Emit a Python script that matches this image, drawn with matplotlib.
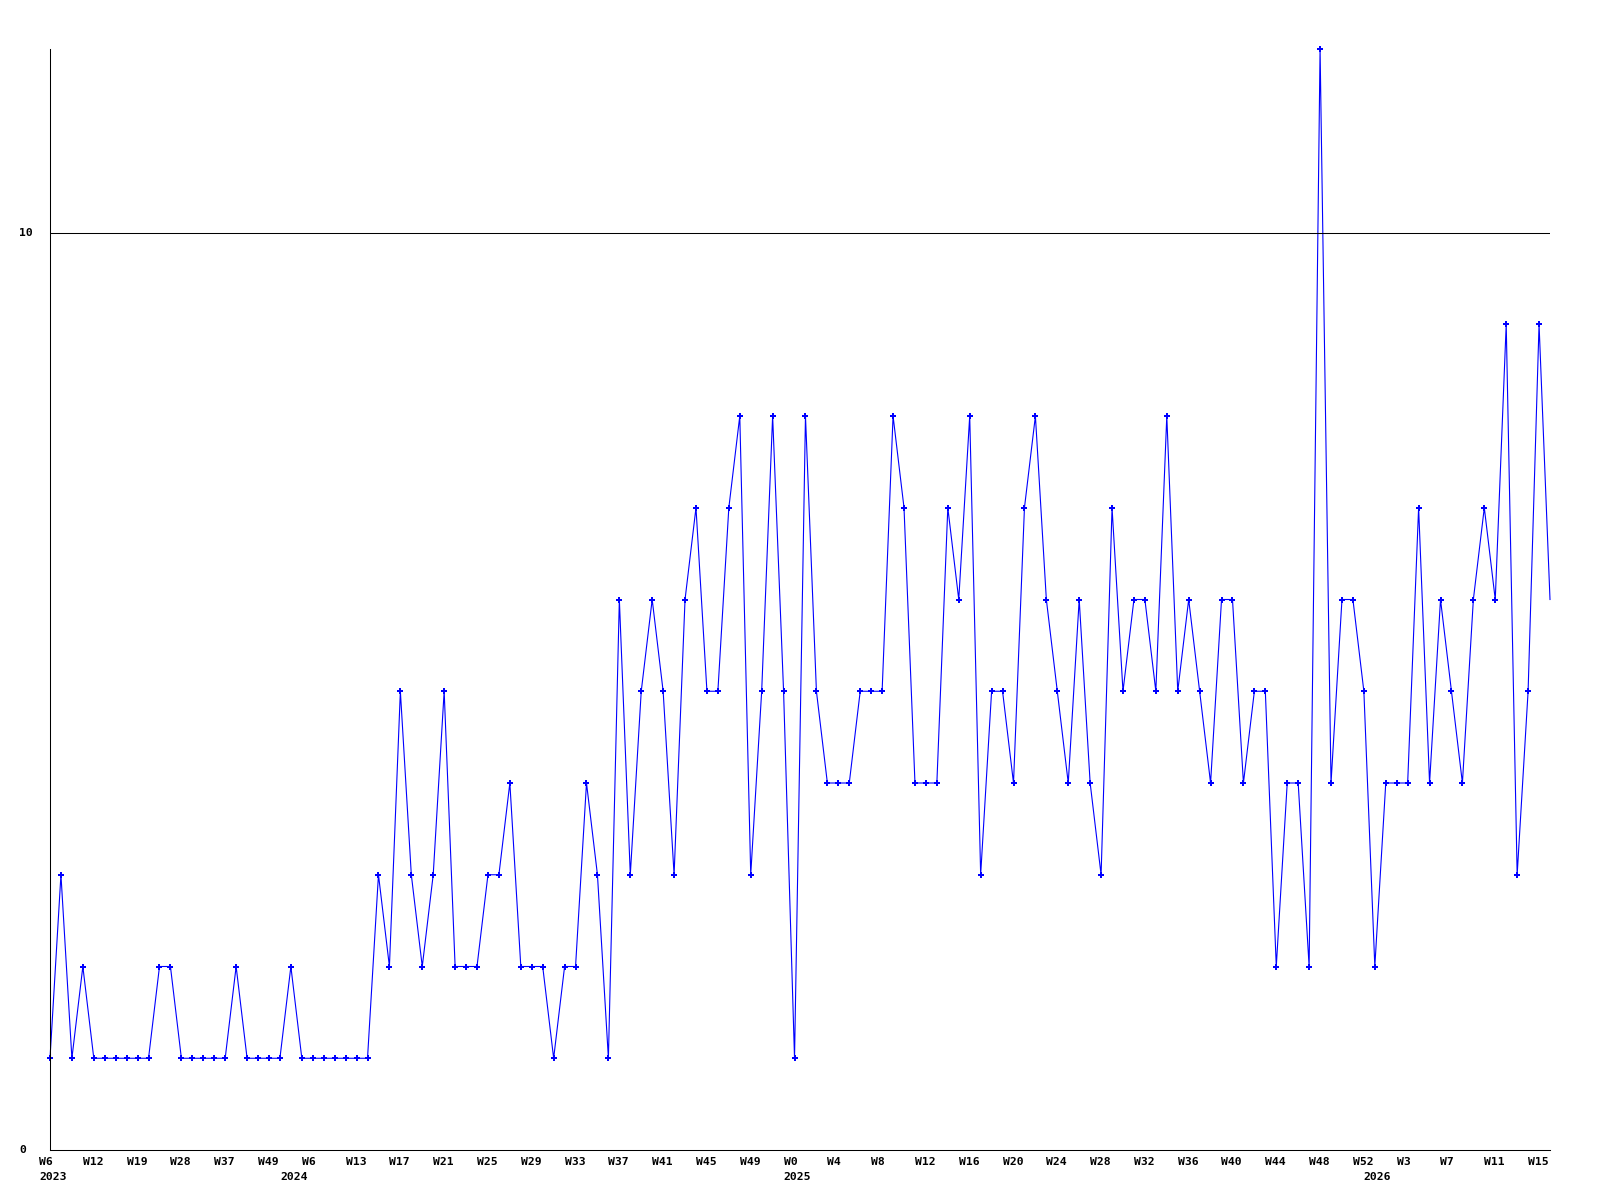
import matplotlib
matplotlib.use("Agg")
import matplotlib.pyplot as plt
import matplotlib.transforms as mtransforms

# weekly counts, one point per week shown on the axis
values = [1, 3, 1, 2, 1, 1, 1, 1, 1, 1, 2, 2, 1, 1, 1, 1, 1, 2, 1, 1,
          1, 1, 2, 1, 1, 1, 1, 1, 1, 1, 3, 2, 5, 3, 2, 3, 5, 2, 2, 2,
          3, 3, 4, 2, 2, 2, 1, 2, 2, 4, 3, 1, 6, 3, 5, 6, 5, 3, 6, 7,
          5, 5, 7, 8, 3, 5, 8, 5, 1, 8, 5, 4, 4, 4, 5, 5, 5, 8, 7, 4,
          4, 4, 7, 6, 8, 3, 5, 5, 4, 7, 8, 6, 5, 4, 6, 4, 3, 7, 5, 6,
          6, 5, 8, 5, 6, 5, 4, 6, 6, 4, 5, 5, 2, 4, 4, 2, 12, 4, 6, 6,
          5, 2, 4, 4, 4, 7, 4, 6, 5, 4, 6, 7, 6, 9, 3, 5, 9, 6]

# labels shown every 4th point
tick_labels = ["W6", "W12", "W19", "W28", "W37", "W49", "W6", "W13", "W17",
               "W21", "W25", "W29", "W33", "W37", "W41", "W45", "W49", "W0",
               "W4", "W8", "W12", "W16", "W20", "W24", "W28", "W32", "W36",
               "W40", "W44", "W48", "W52", "W3", "W7", "W11", "W15"]
year_labels = ["2023", "2024", "2025", "2026"]
year_index = [0, 22, 68, 121]

x = list(range(len(values)))

fig = plt.figure(figsize=(16, 12), dpi=100)
ax = fig.add_axes([50 / 1600, 1 - 1150 / 1200, 1500 / 1600, 1101 / 1200])

# last (current) week is drawn without a marker
ax.plot(x, values, color="#0000ff", linewidth=0.8, marker="P",
        markersize=4.2, markeredgewidth=0, clip_on=False,
        markevery=list(range(len(values) - 1)))
ax.axhline(10, color="black", linewidth=0.75)

ax.set_xlim(0, len(values) - 1)
ax.set_ylim(0, 12)
ax.set_xticks([])
ax.set_yticks([])
for side in ["top", "right"]:
    ax.spines[side].set_visible(False)
for side in ["left", "bottom"]:
    ax.spines[side].set_linewidth(0.75)
    ax.spines[side].set_color("black")

font = dict(family="DejaVu Sans Mono", fontweight="bold", fontsize=8.2)

# x labels: left aligned just before their point, below the axis
blend = mtransforms.blended_transform_factory(ax.transData, ax.transAxes)
row1 = mtransforms.offset_copy(blend, fig=fig, x=-11, y=-12, units="dots")
row2 = mtransforms.offset_copy(blend, fig=fig, x=-11, y=-27, units="dots")
for i, lab in enumerate(tick_labels):
    ax.text(i * 4, 0, lab, transform=row1, ha="left", va="center", **font)
for i, lab in zip(year_index, year_labels):
    ax.text(i, 0, lab, transform=row2, ha="left", va="center", **font)

# y labels at the left edge of the figure
yblend = mtransforms.blended_transform_factory(fig.transFigure, ax.transData)
for v in [0, 10]:
    ax.text(19 / 1600, v, str(v), transform=yblend, ha="left", va="center", **font)

fig.savefig("out.png", dpi=100)
